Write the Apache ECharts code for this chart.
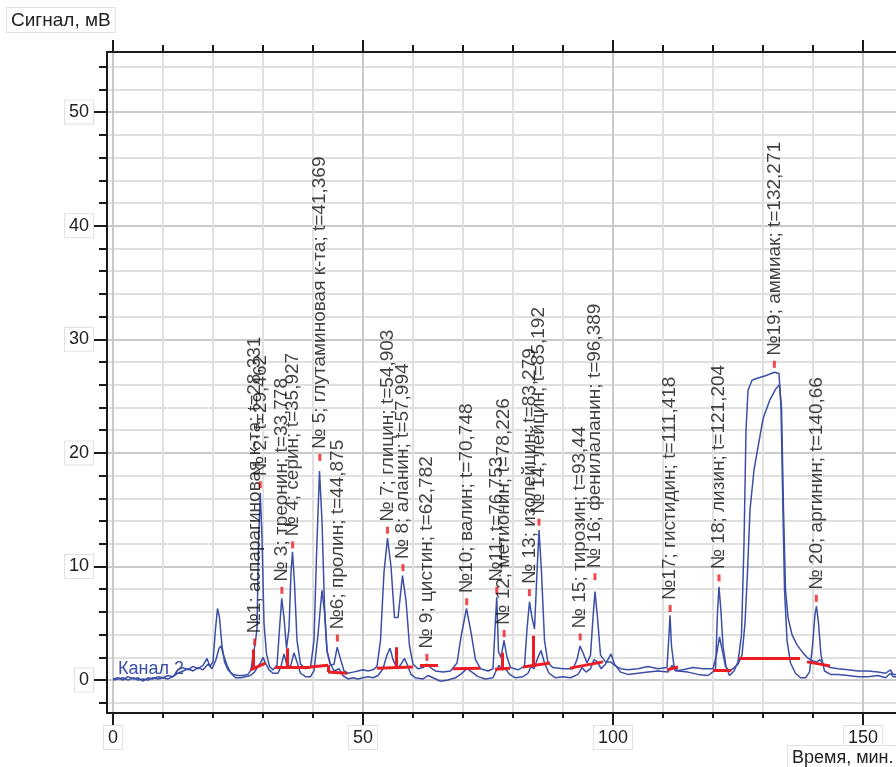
<!DOCTYPE html>
<html>
<head>
<meta charset="utf-8">
<script src="https://cdn.jsdelivr.net/npm/echarts@6/dist/echarts.min.js"></script>
<style>
  html, body { margin: 0; padding: 0; background: #fff; }
  #chart { width: 896px; height: 767px; }
</style>
</head>
<body>
<div id="chart"></div>
<script>
// канал 1 (с размеченными пиками): [время, мВ]
const traceA = [
  [0,0.1],[1,0.2],[2,0.0],[3,0.3],[4,0.1],[5,0.2],[6,-0.1],[7,0.2],[8,0.1],[9,0.3],[10,0.2],[11,0.4],[12,0.3],
  [13,0.9],[14,1.1],[15,0.9],[16,1.2],[17,1.0],[18,1.3],[18.8,1.9],[19.4,1.2],[20,1.6],[20.5,4.5],[20.9,6.3],
  [21.3,5.5],[21.8,3.0],[22.3,1.6],[23,0.9],[24,0.5],[25,0.4],[26,0.4],[27,0.5],[27.6,0.9],[28.0,2.2],[28.4,3.1],
  [28.8,4.5],[29.1,12],[29.45,16.5],[29.8,12.5],[30.2,5],[30.7,2.3],[31.3,1.2],[32,0.9],[32.8,1.3],[33.3,4.5],
  [33.75,7.2],[34.2,5.5],[34.7,2.8],[35.2,4.5],[35.6,9.5],[35.9,11.3],[36.3,8.5],[36.8,3.5],[37.5,1.4],[38.5,1.0],
  [39.5,1.1],[40.2,3.5],[40.7,11],[41.3,18.4],[41.8,14],[42.3,6.5],[42.8,2.6],[43.5,1.3],[44.2,1.4],[44.85,2.9],
  [45.4,2.0],[46.2,0.8],[47,0.6],[48,0.7],[49,0.8],[50,0.9],[51,0.8],[52,0.9],[52.8,1.2],[53.5,3.5],[54.2,9.5],
  [54.9,12.5],[55.6,10],[56.3,5.5],[57,5.5],[57.9,9.2],[58.6,7],[59.3,3],[60,1.4],[61,1.0],[62,1.1],[62.8,1.4],
  [63.5,1.1],[64.5,0.8],[66,0.7],[67.5,0.8],[68.8,1.5],[69.6,3.8],[70.7,6.3],[71.6,4.2],[72.5,1.8],[73.5,1.0],
  [75,0.8],[76.0,1.0],[76.4,4.5],[76.75,7.3],[77.1,2.5],[77.6,2.0],[78.2,3.5],[78.8,2.0],[79.5,1.1],[81,0.9],
  [82.3,1.2],[82.8,4.5],[83.3,6.9],[83.8,5.5],[84.3,4.5],[84.8,9.5],[85.2,13.2],[85.7,9.5],[86.3,3.5],[87,1.5],
  [88,1.1],[90,1.0],[92,1.0],[92.8,1.8],[93.4,3.0],[94,2.4],[94.8,1.5],[95.5,2.2],[96.0,5.5],[96.4,7.8],[96.9,5.5],
  [97.5,2.2],[98.5,1.6],[99.5,1.6],[100.3,1.3],[101.5,1.0],[103,0.9],[105,1.0],[107,1.2],[109,1.0],[110.8,1.1],
  [111.2,4],[111.4,5.7],[111.7,3],[112.2,1.2],[113,0.8],[115,0.7],[117,0.5],[119,0.4],[120.5,0.9],[120.9,6],
  [121.2,8.2],[121.6,6],[122,3],[122.6,1.2],[123.3,0.4],[124.2,0.8],[125,1.6],[125.7,4],[126.2,12],[126.6,22],
  [127,25.5],[127.8,26.4],[129,26.6],[130.5,26.8],[132.3,27.1],[133.2,27.0],[133.6,24],[133.9,17],[134.3,8],
  [134.8,3.5],[135.5,1.5],[136.5,0.6],[137.5,0.2],[138.5,0.2],[139.3,0.7],[139.9,3],[140.4,5.8],[140.7,6.5],
  [141.1,5],[141.6,2.2],[142.3,0.8],[143.5,0.5],[145,0.5],[147,0.4],[149,0.3],[151,0.3],[153,0.4],[154.5,0.2],
  [155.5,0.6],[156,0.3],[157,0.3]
];

// второй канал
const traceB = [
  [0,0.0],[1,0.1],[2,0.2],[3,0.0],[4,0.2],[5,0.0],[6,0.1],[7,0.0],[8,0.2],[9,0.1],[10,0.2],[11,0.1],[12,0.3],
  [13,0.6],[14,0.8],[15,1.0],[16,0.8],[17,1.1],[18,0.9],[19,1.4],[19.8,1.0],[20.6,1.8],[21.2,2.8],[21.6,3.0],
  [22.1,2.2],[22.8,1.3],[23.6,0.6],[24.5,0.2],[25.5,0.2],[26.5,0.3],[27.5,0.4],[28.3,0.7],[29,1.2],[29.6,1.6],
  [30.0,2.0],[30.5,1.5],[31.2,0.9],[32,0.6],[33,0.6],[33.6,1.2],[34.2,2.3],[34.8,1.3],[35.5,1.2],[36.2,2.4],
  [36.8,1.6],[37.5,0.6],[38.5,0.3],[39.5,0.3],[40.2,0.8],[41,4],[41.5,6.5],[41.8,7.9],[42.3,6.0],[42.8,2.5],
  [43.4,1.5],[44.2,0.8],[45.2,1.0],[46,0.4],[47,0.1],[48,0.2],[49,0.1],[50,0.2],[51,0.3],[52,0.2],[53,0.4],
  [54,1.0],[54.8,2.2],[55.4,2.8],[56,1.8],[56.8,1.0],[57.6,1.4],[58.3,1.9],[58.9,1.3],[59.6,0.5],[60.5,0.2],
  [62,0.1],[63,0.4],[64,0.2],[65.5,-0.1],[67,0.0],[68.5,0.2],[69.5,0.5],[70.8,1.0],[71.8,0.7],[73,0.3],[74.5,0.1],
  [76,0.2],[76.6,0.8],[77.2,1.3],[77.8,0.9],[78.5,1.0],[79.3,0.5],[80.5,0.2],[82,0.3],[83,0.6],[83.6,1.2],
  [84.2,1.0],[85,2.0],[85.6,2.6],[86.3,1.5],[87.2,0.6],[88.5,0.2],[90,0.3],[91.5,0.2],[93,0.5],[93.8,1.1],
  [94.6,0.7],[95.5,1.0],[96.2,1.8],[96.9,1.6],[97.6,1.0],[98.5,1.4],[99.6,2.3],[100.3,1.4],[101.5,0.7],[103,0.5],
  [105,0.6],[107,0.7],[109,0.8],[111,0.7],[111.8,1.3],[112.5,0.8],[114,0.9],[116,1.1],[118,1.0],[120,1.0],
  [120.7,2.2],[121.3,3.8],[121.9,2.5],[122.5,1.2],[123.2,0.8],[124,1.0],[125,1.4],[125.8,2.2],[126.4,5],
  [126.9,9.5],[127.4,15],[128.2,18.5],[128.8,20],[130,23],[131.4,24.7],[132.5,25.6],[133.3,26.0],[133.7,24.0],
  [134.1,15],[134.5,8],[135,5.5],[135.8,4.0],[136.8,3.1],[137.8,2.5],[138.8,2.0],[139.8,1.7],[140.8,1.6],
  [141.4,1.8],[142.2,1.3],[143.5,1.1],[145,1.0],[147,0.9],[149,0.8],[151,0.8],[153,0.7],[154.5,0.6],[155.5,0.9],
  [156,0.5],[157,0.5]
];

// пики: время, положение метки (мВ), подпись
const peakTimes = [28.331, 29.462, 33.778, 35.927, 41.369, 44.875, 54.903, 57.994, 62.782, 70.748,
  76.753, 78.226, 83.279, 85.192, 93.44, 96.389, 111.418, 121.204, 132.271, 140.66];
const peakMarks = [3.35, 17.2, 7.9, 11.9, 19.6, 3.7, 13.2, 9.9, 2.0, 6.9,
  7.9, 4.1, 7.7, 13.9, 3.8, 9.1, 6.3, 9.0, 27.8, 7.2];
const peakNames = [
  '№1; аспарагиновая к-та; t=28,331', '№ 2; t=29,462', '№ 3; треонин; t=33,778', '№ 4; серин; t=35,927',
  '№ 5; глутаминовая к-та; t=41,369', '№6; пролин; t=44,875', '№ 7; глицин; t=54,903', '№ 8; аланин; t=57,994',
  '№ 9; цистин; t=62,782', '№10; валин; t=70,748', '№11; t=76,753', '№ 12; метионин; t=78,226',
  '№ 13; изолейцин; t=83,279', '№ 14; лейцин; t=85,192', '№ 15; тирозин; t=93,44', '№ 16; фенилаланин; t=96,389',
  '№17; гистидин; t=111,418', '№ 18; лизин; t=121,204', '№19; аммиак; t=132,271', '№ 20; аргинин; t=140,66'
];

// базовые линии интегрирования: [t1, v1, t2, v2]
const baseLines = [
  [27.5,0.9,30.5,1.5], [32.4,1.15,39.4,1.15], [39.4,1.15,43,1.3], [43,0.7,46.8,0.6],
  [52.8,1.05,60,1.15], [61.4,1.3,65,1.3], [68,1.0,73.4,1.05], [76.4,0.95,79.4,1.05],
  [82,1.15,87.4,1.5], [91.4,1.05,98,1.6], [110.8,0.9,113,1.15], [120,0.9,123.6,0.9],
  [125.2,1.95,137.4,1.95], [138.8,1.6,143.4,1.25]
];
// линии разделения пиков: [t, v1, v2]
const dropLines = [
  [28.0,0.95,2.7], [34.8,1.15,2.8], [56.6,1.1,2.9], [77.8,1.0,2.4], [84.0,1.15,3.9], [43,0.7,1.3]
];

const xTicks = [0, 50, 100, 150];
const yTicks = [0, 10, 20, 30, 40, 50];

const FONT = '"Liberation Sans", Arial, sans-serif';
const BLUE = '#3b4fa6';
const RED = '#ec1c24';

const chart = echarts.init(document.getElementById('chart'));

const segData = baseLines.map(s => ({ coords: [[s[0], s[1]], [s[2], s[3]]] }))
  .concat(dropLines.map(d => ({ coords: [[d[0], d[1]], [d[0], d[2]]] })));

const markData = peakTimes.map((t, i) => ({ value: [t, peakMarks[i]], name: peakNames[i] }));

const boxLabel = {
  color: '#222',
  fontFamily: FONT,
  fontSize: 18,
  backgroundColor: '#fff',
  borderColor: '#e2e2e2',
  borderWidth: 1,
  padding: [3, 4, 2, 4]
};

const option = {
  animation: false,
  backgroundColor: '#fff',
  grid: {
    left: 107, top: 52, width: 796, height: 661,
    containLabel: false, outerBoundsMode: 'none'
  },
  xAxis: [
    {
      type: 'value', position: 'bottom', min: -1.2, max: 158, splitNumber: 3,
      axisLine: { show: true, onZero: false, lineStyle: { color: '#1a1a1a', width: 2 } },
      axisTick: { show: true, length: 12, customValues: xTicks, lineStyle: { color: '#1a1a1a', width: 2 } },
      minorTick: { show: true, splitNumber: 5, length: 5, lineStyle: { color: '#1a1a1a', width: 2 } },
      axisLabel: Object.assign({ margin: 13, customValues: xTicks }, boxLabel),
      splitLine: { show: true, lineStyle: { color: '#c9c9c9', width: 2 } },
      minorSplitLine: { show: true, lineStyle: { color: '#e0e0e0', width: 2 } }
    },
    {
      type: 'value', position: 'top', min: -1.2, max: 158, splitNumber: 3,
      axisLine: { show: true, onZero: false, lineStyle: { color: '#1a1a1a', width: 2 } },
      axisTick: { show: true, length: 12, customValues: xTicks, lineStyle: { color: '#1a1a1a', width: 2 } },
      minorTick: { show: true, splitNumber: 5, length: 7, lineStyle: { color: '#1a1a1a', width: 2 } },
      axisLabel: { show: false },
      splitLine: { show: false }
    }
  ],
  yAxis: {
    type: 'value', min: -2.9, max: 55.3, splitNumber: 6,
    axisLine: { show: true, onZero: false, lineStyle: { color: '#1a1a1a', width: 2 } },
    axisTick: { show: true, length: 14, customValues: yTicks, lineStyle: { color: '#1a1a1a', width: 2 } },
    minorTick: { show: true, splitNumber: 5, length: 8, lineStyle: { color: '#1a1a1a', width: 2 } },
    axisLabel: Object.assign({ margin: 14, customValues: yTicks }, boxLabel),
    splitLine: { show: true, lineStyle: { color: '#c9c9c9', width: 2 } },
    minorSplitLine: { show: true, lineStyle: { color: '#e0e0e0', width: 2 } }
  },
  series: [
    {
      type: 'line', data: traceB, showSymbol: false, symbol: 'none', z: 3,
      lineStyle: { color: BLUE, width: 1.5 }
    },
    {
      type: 'line', data: traceA, showSymbol: false, symbol: 'none', z: 3,
      lineStyle: { color: BLUE, width: 1.5 }
    },
    {
      type: 'lines', coordinateSystem: 'cartesian2d', data: segData, z: 4,
      lineStyle: { color: RED, width: 3, opacity: 1 }
    },
    {
      type: 'scatter', data: markData, symbol: 'rect', symbolSize: [3, 7], z: 5,
      itemStyle: { color: RED },
      label: {
        show: true, position: 'top', distance: 5, rotate: 90,
        align: 'left', verticalAlign: 'middle',
        formatter: p => p.name,
        color: '#111', fontFamily: FONT, fontSize: 19
      }
    }
  ],
  graphic: [
    {
      type: 'text', left: 6, top: 7, z: 10,
      style: {
        text: 'Сигнал, мВ', font: '19px ' + FONT, fill: '#222',
        backgroundColor: '#fff', borderColor: '#e2e2e2', borderWidth: 1, padding: [3, 4, 2, 4]
      }
    },
    {
      type: 'text', left: 787, top: 745, z: 10,
      style: {
        text: 'Время, мин.', font: '18px ' + FONT, fill: '#222',
        backgroundColor: '#fff', borderColor: '#e2e2e2', borderWidth: 1, padding: [3, 3, 2, 4]
      }
    },
    {
      type: 'text', left: 118, top: 660, z: 10,
      style: { text: 'Канал 2', font: '18px ' + FONT, fill: BLUE }
    }
  ]
};

chart.setOption(option);
</script>
</body>
</html>
